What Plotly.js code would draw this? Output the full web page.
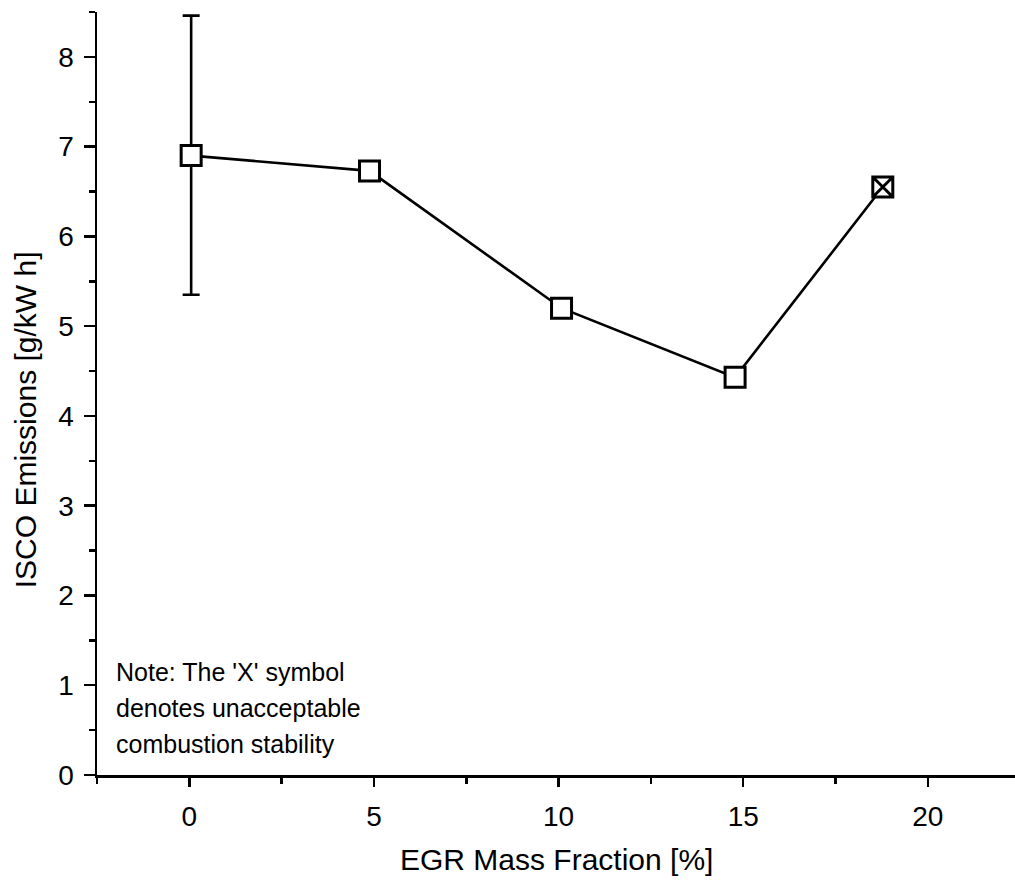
<!DOCTYPE html>
<html>
<head>
<meta charset="utf-8">
<script src="https://cdn.plot.ly/plotly-3.0.1.min.js"></script>
<style>html,body{margin:0;padding:0;background:#fff;}#chart{width:1015px;height:888px;}</style>
</head>
<body>
<div id="chart"></div>
<script>
const egrFraction = [0.05, 4.88, 10.08, 14.78, 18.78];
const iscoEmissions = [6.9, 6.73, 5.2, 4.43, 6.55];
const errPlus = [1.56, 0, 0, 0, 0];
const errMinus = [1.55, 0, 0, 0, 0];
const stableMask = [true, true, true, true, false];
const xTickVals = [0, 5, 10, 15, 20];
const yTickVals = [0, 1, 2, 3, 4, 5, 6, 7, 8];
const xTitle = 'EGR Mass Fraction [%]';
const yTitle = 'ISCO Emissions [g/kW h]';
const noteLines = ["Note: The 'X' symbol", "denotes unacceptable", "combustion stability"];

const symbols = stableMask.map(s => s ? 'square' : 'square-x');

const font = 'Liberation Sans, Arial, sans-serif';
const traces = [
  {
    x: egrFraction, y: iscoEmissions, type: 'scatter', mode: 'lines',
    line: {color: '#000', width: 2.6}, hoverinfo: 'skip', showlegend: false
  },
  {
    x: egrFraction.slice(0, 1), y: iscoEmissions.slice(0, 1), type: 'scatter', mode: 'markers',
    marker: {size: 1, color: 'rgba(0,0,0,0)'},
    error_y: {type: 'data', symmetric: false, array: errPlus.slice(0, 1), arrayminus: errMinus.slice(0, 1),
      color: '#000', thickness: 2.6, width: 8.5},
    showlegend: false
  },
  {
    x: egrFraction, y: iscoEmissions, type: 'scatter', mode: 'markers',
    marker: {symbol: symbols, size: 20, color: '#fff', line: {color: '#000', width: 3}},
    showlegend: false
  }
];

const noteY = [0.135, 0.0878, 0.0406];
const annotations = noteLines.map((t, i) => ({
  xref: 'paper', yref: 'paper', x: 0.0185, y: noteY[i], xanchor: 'left', yanchor: 'middle',
  text: t, showarrow: false, align: 'left', font: {size: 25, family: font, color: '#000'}
}));
annotations.push({
  xref: 'paper', yref: 'paper', x: 0.501, y: -0.1114, xanchor: 'center', yanchor: 'middle',
  text: xTitle, showarrow: false, font: {size: 30, family: font, color: '#000'}
});
annotations.push({
  xref: 'paper', yref: 'paper', x: -0.0784, y: 0.465, xanchor: 'center', yanchor: 'middle',
  text: yTitle, textangle: -90, showarrow: false, font: {size: 30, family: font, color: '#000'}
});

const layout = {
  width: 1015, height: 888,
  margin: {l: 97, r: 0, t: 12, b: 113},
  paper_bgcolor: '#fff', plot_bgcolor: '#fff',
  font: {family: font, color: '#000'},
  xaxis: {
    range: [-2.5, 22.36], tickvals: xTickVals, ticks: 'outside', ticklen: 9, tickwidth: 2.5,
    tickcolor: '#000', showline: true, linewidth: 2.5, linecolor: '#000', showgrid: false, zeroline: false,
    tickfont: {size: 28, family: font}, ticklabelstandoff: 6,
    minor: {dtick: 2.5, tick0: 0, ticks: 'outside', ticklen: 6, tickwidth: 2.5, tickcolor: '#000', showgrid: false}
  },
  yaxis: {
    range: [0, 8.5], tickvals: yTickVals, ticks: 'outside', ticklen: 11, tickwidth: 2.5,
    tickcolor: '#000', showline: true, linewidth: 2.5, linecolor: '#000', showgrid: false, zeroline: false,
    tickfont: {size: 28, family: font}, ticklabelstandoff: 4,
    minor: {dtick: 0.5, tick0: 0, ticks: 'outside', ticklen: 6, tickwidth: 2.5, tickcolor: '#000', showgrid: false}
  },
  annotations: annotations
};

Plotly.newPlot('chart', traces, layout, {displayModeBar: false, staticPlot: true});
</script>
</body>
</html>
